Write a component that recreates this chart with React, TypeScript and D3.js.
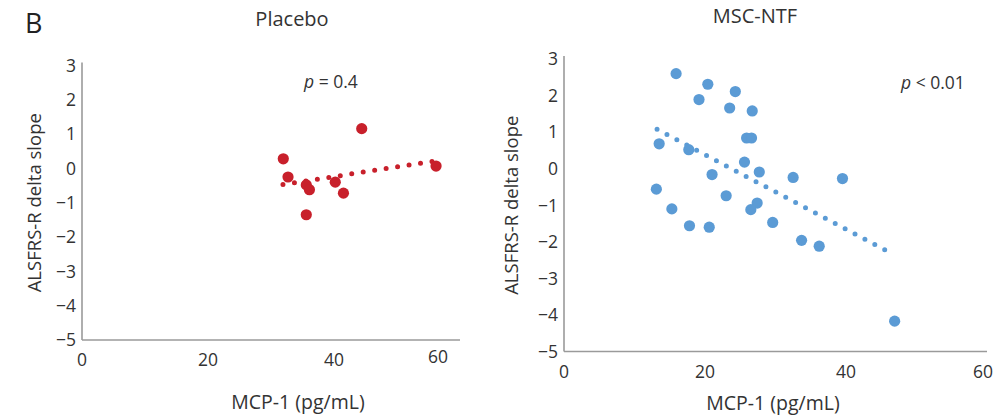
import React from "react";
import * as d3 from "d3";

// ---------- data ----------
const placeboX = [31.95, 32.7, 35.6, 36.1, 35.6, 40.2, 41.5, 44.4, 56.2];
const placeboY = [0.28, -0.25, -0.48, -0.62, -1.35, -0.4, -0.72, 1.16, 0.07];
const placeboTrendX = [31.9, 56.4];
const placeboTrendY = [-0.47, 0.23];

const mscX = [15.9, 20.4, 24.3, 19.15, 23.5, 26.7, 25.9, 26.6, 13.5, 17.7, 25.6, 27.7, 21.0, 32.5, 39.5, 13.1, 23.0, 27.4, 26.5, 15.3, 17.8, 20.6, 29.6, 33.7, 36.2, 46.9];
const mscY = [2.6, 2.31, 2.11, 1.89, 1.66, 1.58, 0.84, 0.84, 0.68, 0.52, 0.18, -0.09, -0.16, -0.24, -0.27, -0.56, -0.74, -0.94, -1.12, -1.1, -1.56, -1.6, -1.47, -1.96, -2.12, -4.17];
const mscTrendX = [13.2, 45.9];
const mscTrendY = [1.08, -2.26];

const xTicks = [0, 20, 40, 60];
const yTicks = [3, 2, 1, 0, -1, -2, -3, -4, -5];
const panelTitles = ["Placebo", "MSC-NTF"];
const pLabels = [" = 0.4", " < 0.01"];
const xTitle = "MCP-1 (pg/mL)";
const yTitle = "ALSFRS-R delta slope";

const FONT = "'Open Sans', 'Noto Sans', sans-serif";
const TEXT = "#333";

type Panel = {
  title: string;
  xs: number[];
  ys: number[];
  tx: number[];
  ty: number[];
  color: string;
  x0: number;
  x1: number;
  yTop: number;
  yBot: number;
  titleX: number;
  titleY: number;
  yTitleX: number;
  xTitleX: number;
  xTitleY: number;
  tickLabelY: number;
  pX: number;
  pY: number;
  pText: string;
  lastTickDx: number;
  dash: string;
};

const panels: Panel[] = [
  {
    title: panelTitles[0],
    xs: placeboX,
    ys: placeboY,
    tx: placeboTrendX,
    ty: placeboTrendY,
    color: "#c8202b",
    x0: 82,
    x1: 460,
    yTop: 65.5,
    yBot: 340,
    titleX: 292,
    titleY: 26,
    yTitleX: 41,
    xTitleX: 298,
    xTitleY: 409,
    tickLabelY: 366,
    pX: 304,
    pY: 88,
    pText: pLabels[0],
    lastTickDx: -22,
    dash: "0 11.6",
  },
  {
    title: panelTitles[1],
    xs: mscX,
    ys: mscY,
    tx: mscTrendX,
    ty: mscTrendY,
    color: "#5b9bd5",
    x0: 564,
    x1: 987,
    yTop: 59,
    yBot: 351.5,
    titleX: 755,
    titleY: 23,
    yTitleX: 518,
    xTitleX: 773,
    xTitleY: 410,
    tickLabelY: 378,
    pX: 901,
    pY: 89,
    pText: pLabels[1],
    lastTickDx: -4,
    dash: "0 11.2",
  },
];

function PanelView({ p }: { p: Panel }) {
  const x = d3.scaleLinear().domain([0, 60]).range([p.x0, p.x1]);
  const y = d3.scaleLinear().domain([3, -5]).range([p.yTop, p.yBot]);
  const line = d3
    .line<number>()
    .x((_, i) => x(p.tx[i]))
    .y((_, i) => y(p.ty[i]));
  const yMid = (p.yTop + p.yBot) / 2;
  return (
    <g>
      <text x={p.titleX} y={p.titleY} textAnchor="middle" fontSize={20} fill={TEXT} fontFamily={FONT}>
        {p.title}
      </text>
      {/* axes */}
      <line x1={p.x0} x2={p.x0} y1={p.yTop - 3} y2={p.yBot} stroke="#9a9a9a" strokeWidth={1.6} />
      <line x1={p.x0} x2={p.x1} y1={p.yBot} y2={p.yBot} stroke="#9a9a9a" strokeWidth={1.6} />
      {yTicks.map((t) => (
        <text key={t} x={p.x0 - 6} y={y(t)} dy="0.36em" textAnchor="end" fontSize={17.5} fill={TEXT} fontFamily={FONT}>
          {t < 0 ? "\u2212" + Math.abs(t) : t}
        </text>
      ))}
      {xTicks.map((t, i) => (
        <text
          key={t}
          x={x(t) + (i === xTicks.length - 1 ? p.lastTickDx : 0)}
          y={p.tickLabelY - (i === xTicks.length - 1 && p.lastTickDx < -10 ? 3 : 0)}
          textAnchor="middle"
          fontSize={17.5}
          fill={TEXT}
          fontFamily={FONT}
        >
          {t}
        </text>
      ))}
      <text
        transform={`translate(${p.yTitleX},${yMid}) rotate(-90)`}
        textAnchor="middle"
        fontSize={18.5}
        fill={TEXT}
        fontFamily={FONT}
      >
        {yTitle}
      </text>
      <text x={p.xTitleX} y={p.xTitleY} textAnchor="middle" fontSize={19.5} fill={TEXT} fontFamily={FONT}>
        {xTitle}
      </text>
      <text x={p.pX} y={p.pY} fontSize={17.5} fill={TEXT} fontFamily={FONT}>
        <tspan fontStyle="italic">p</tspan>
        {p.pText}
      </text>
      {/* trend */}
      <path
        d={line(p.tx) || ""}
        fill="none"
        stroke={p.color}
        strokeWidth={5}
        strokeLinecap="round"
        strokeDasharray={p.dash}
      />
      {p.xs.map((v, i) => (
        <circle key={i} cx={x(v)} cy={y(p.ys[i])} r={5.6} fill={p.color} />
      ))}
    </g>
  );
}

export default function App() {
  return (
    <svg
      width={997}
      height={415}
      style={{ position: "absolute", left: 0, top: 0, background: "#fff" }}
    >
      <rect width={997} height={415} fill="#fff" />
      <text x={25} y={33} fontSize={27} fill="#222" fontFamily={FONT}>
        B
      </text>
      {panels.map((p) => (
        <PanelView key={p.title} p={p} />
      ))}
    </svg>
  );
}
